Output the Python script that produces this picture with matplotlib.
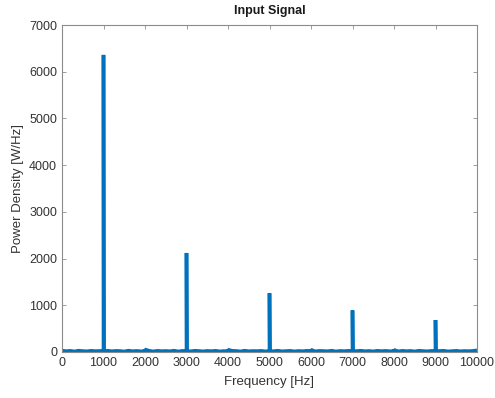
import matplotlib
matplotlib.use("Agg")
import matplotlib.pyplot as plt
import numpy as np

# spectral peaks (odd harmonics of 1 kHz)
peak_freqs = [1000, 3000, 5000, 7000, 9000]
peak_power = [6360, 2120, 1260, 890, 685]

# small bumps at even harmonics
bump_freqs = [2000, 4000, 6000, 8000]
bump_power = [55, 50, 48, 45]

# noise floor, read every 100 Hz from 0 to 10000 Hz
noise_floor = [
    30, 18, 25, 12, 28, 20, 15, 26, 19, 22,
    14, 27, 16, 24, 21, 11, 29, 17, 23, 15,
    20, 26, 13, 25, 18, 22, 16, 28, 12, 24,
    19, 15, 27, 21, 14, 23, 18, 26, 13, 20,
    17, 25, 22, 12, 28, 16, 21, 19, 24, 14,
    23, 18, 27, 15, 20, 25, 13, 22, 17, 26,
    19, 14, 24, 21, 16, 28, 12, 23, 18, 25,
    15, 20, 27, 17, 22, 13, 26, 19, 24, 16,
    21, 14, 25, 18, 23, 12, 27, 20, 15, 24,
    17, 22, 26, 13, 19, 25, 16, 21, 18, 23,
    35,
]
noise_freqs = np.linspace(0, 10000, len(noise_floor))

# floor level just either side of each peak (peaks are very narrow)
flank_offset = 8
flank_power = [20, 22, 18, 21, 19]

freqs = list(noise_freqs) + peak_freqs + bump_freqs
power = list(noise_floor) + peak_power + bump_power
for f, p in zip(peak_freqs, flank_power):
    freqs += [f - flank_offset, f + flank_offset]
    power += [p, p]
order = np.argsort(freqs, kind="stable")
freqs = np.array(freqs)[order]
power = np.array(power)[order]

plt.rcParams["font.family"] = ["Liberation Sans", "DejaVu Sans"]

fig = plt.figure(figsize=(4.95, 3.98), dpi=100)
ax = fig.add_axes([62 / 495, 46 / 398, 415 / 495, 327 / 398])

ax.plot(freqs, power, color="#0072BD", linewidth=2.6,
        solid_capstyle="butt", solid_joinstyle="bevel")

ax.set_xlim(0, 10000)
ax.set_ylim(0, 7000)
ax.set_xticks(np.arange(0, 10001, 1000))
ax.set_yticks(np.arange(0, 7001, 1000))

ax.set_title("Input Signal", fontsize=9, fontweight="bold", color="#1a1a1a", pad=8)
ax.set_xlabel("Frequency [Hz]", fontsize=9.5, color="#333333", labelpad=5)
ax.set_ylabel("Power Density [W/Hz]", fontsize=9.5, color="#333333", labelpad=4)

for side in ax.spines.values():
    side.set_color("#8c8c8c")
    side.set_linewidth(0.8)
ax.tick_params(direction="in", length=3, width=0.6, colors="#8c8c8c",
               labelcolor="#333333", labelsize=9, top=True, right=True)

fig.savefig("out.png", dpi=100)
